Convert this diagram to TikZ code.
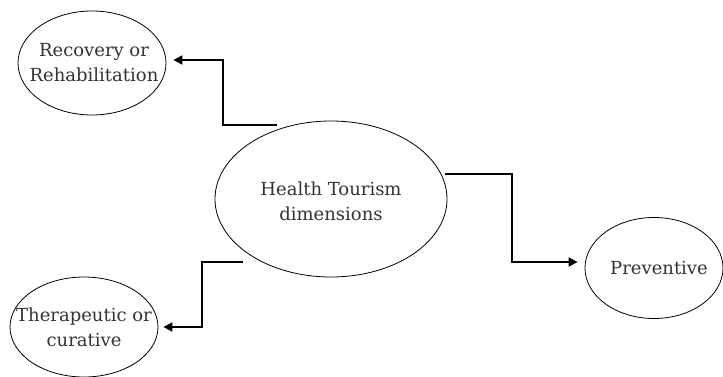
\documentclass[tikz,border=0pt]{standalone}
\usepackage{fontspec}
\setmainfont{DejaVu Serif}
\usetikzlibrary{shapes.geometric,arrows.meta}
\begin{document}
\begin{tikzpicture}[x=1pt,y=-1pt,
    dim/.style={draw, ellipse, inner sep=0pt, line width=0.8pt},
    lbl/.style={text=black!80, align=center, inner sep=0pt,
      font=\fontsize{18}{25}\selectfont},
    link/.style={-{Triangle[length=9pt,width=9pt]}, line width=2pt}]
    \useasboundingbox (0,0) rectangle (723,377);

    % Central ellipse
    \node[dim, minimum width=232pt, minimum height=156pt] (health) at (331,199) {};
    \node[lbl] (healthtxt) at (331,201) {Health Tourism\\dimensions};

    % The four dimensions
    \node[dim, minimum width=148pt, minimum height=104pt] (recovery) at (92,63) {};
    \node[lbl] (recoverytxt) at (94,63) {Recovery or\\Rehabilitation};
    \node[dim, minimum width=148pt, minimum height=100pt] (therapeutic) at (84,327) {};
    \node[lbl] (therapeutictxt) at (84,327) {Therapeutic or\\curative};
    \node[dim, minimum width=138pt, minimum height=101pt] (preventive) at (654,268) {};
    \node[lbl] (preventivetxt) at (659,268) {Preventive};

    % Free ends and bends of the connectors
    \coordinate (s1) at (277,125);
    \coordinate (b1) at (223,60);
    \coordinate (s2) at (243,262);
    \coordinate (b2) at (202,327);
    \coordinate (s3) at (445,174);
    \coordinate (b3) at (512,262);

    % Connectors
    \draw[link, shorten >=7pt] (s1) -| (b1) -- (b1 -| recovery.east);
    \draw[link, shorten >=5pt] (s2) -| (b2) -- (therapeutic.east);
    \draw[link, shorten >=7pt] (s3) -| (b3) -- (b3 -| preventive.west);
\end{tikzpicture}
\end{document}
